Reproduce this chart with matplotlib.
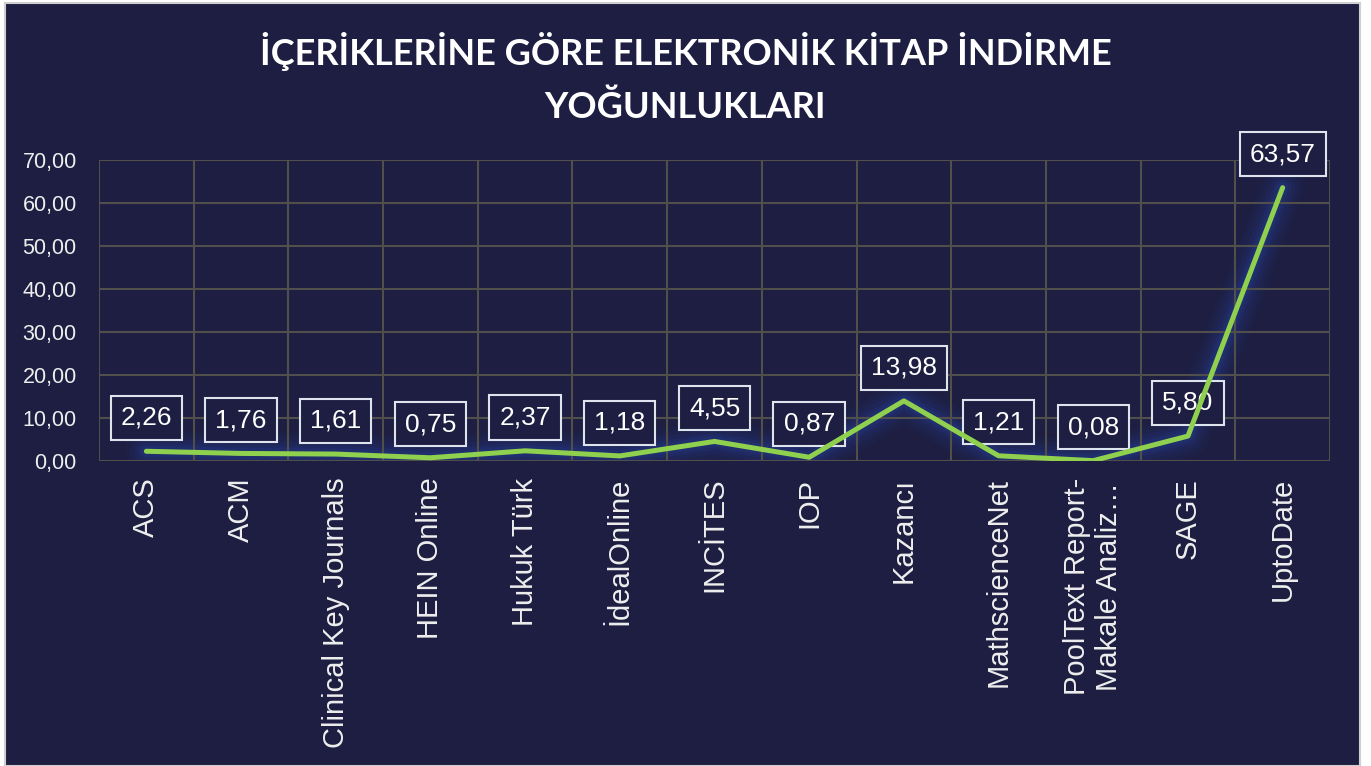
import matplotlib
matplotlib.use("Agg")
import matplotlib.pyplot as plt
from matplotlib.patches import Rectangle
from matplotlib.ticker import FuncFormatter

categories = ["ACS", "ACM", "Clinical Key Journals", "HEIN Online", "Hukuk Türk",
              "İdealOnline", "INCİTES", "IOP", "Kazancı", "MathscienceNet",
              "PoolText Report-\nMakale Analiz…", "SAGE", "UptoDate"]
values = [2.26, 1.76, 1.61, 0.75, 2.37, 1.18, 4.55, 0.87, 13.98, 1.21, 0.08, 5.80, 63.57]
yticks = [0, 10, 20, 30, 40, 50, 60, 70]
title = "İÇERİKLERİNE GÖRE ELEKTRONİK KİTAP İNDİRME\nYOĞUNLUKLARI"

BG = "#1d1e41"
GRID = "#514f4c"
GREEN = "#8fd14f"
TXT = "#eeeeee"

plt.rcParams['font.family'] = ['Liberation Sans', 'DejaVu Sans']

fig = plt.figure(figsize=(13.71, 7.66), dpi=100)
fig.patch.set_facecolor("white")
card = Rectangle((5 / 1371, 0), (1360 - 5) / 1371, (766 - 3) / 766, transform=fig.transFigure,
                 facecolor=BG, edgecolor="#cfcfcf", linewidth=1.5, zorder=-10)
fig.patches.append(card)

ax = fig.add_axes([99 / 1371, (766 - 461) / 766, (1330 - 99) / 1371, (461 - 160) / 766])
ax.set_zorder(1)
ax.patch.set_alpha(0)

x = list(range(len(categories)))
ax.set_xlim(-0.5, len(categories) - 0.5)
ax.set_ylim(0, 70)
ax.set_yticks(yticks)
ax.yaxis.set_major_formatter(FuncFormatter(lambda v, p: f"{v:.2f}".replace(".", ",")))

# glow (below grid)
for lw, a in [(30, 0.06), (24, 0.07), (18, 0.09), (12, 0.12), (8, 0.14)]:
    ax.plot(x, values, color="#2c4bb8", linewidth=lw, alpha=a, solid_capstyle="round",
            solid_joinstyle="round", zorder=1)

# grid lines: horizontal at ticks, vertical at category boundaries
for yv in yticks:
    ax.axhline(yv, color=GRID, linewidth=1.5, zorder=2)
for i in range(len(categories) + 1):
    ax.axvline(i - 0.5, color=GRID, linewidth=1.5, zorder=2)
for s in ax.spines.values():
    s.set_visible(False)

for xi, v in zip(x, values):
    ax.annotate(f"{v:.2f}".replace(".", ","), (xi, v), xytext=(0, 24), textcoords="offset points",
                ha="center", va="center", fontsize=19, color="white", zorder=3,
                bbox=dict(boxstyle="square,pad=0.38", facecolor=BG, edgecolor="#dde4ee", linewidth=1.5))

ax.plot(x, values, color=GREEN, linewidth=3.6, solid_capstyle="round",
        solid_joinstyle="round", zorder=4)

ax.set_xticks(x)
ax.set_xticklabels(categories, rotation=90, fontsize=21, color=TXT, ha="center", va="top",
                   multialignment="center")
ax.tick_params(axis="x", length=0, pad=12)
ax.tick_params(axis="y", length=0, pad=16, labelsize=15.5, labelcolor=TXT)

fig.text(0.5, 1 - 78 / 766, title, ha="center", va="center", fontsize=26, fontweight="bold",
         color="white", linespacing=1.68, family=['Lato', 'DejaVu Sans'])

fig.savefig("out.png", dpi=100, facecolor=fig.get_facecolor())
